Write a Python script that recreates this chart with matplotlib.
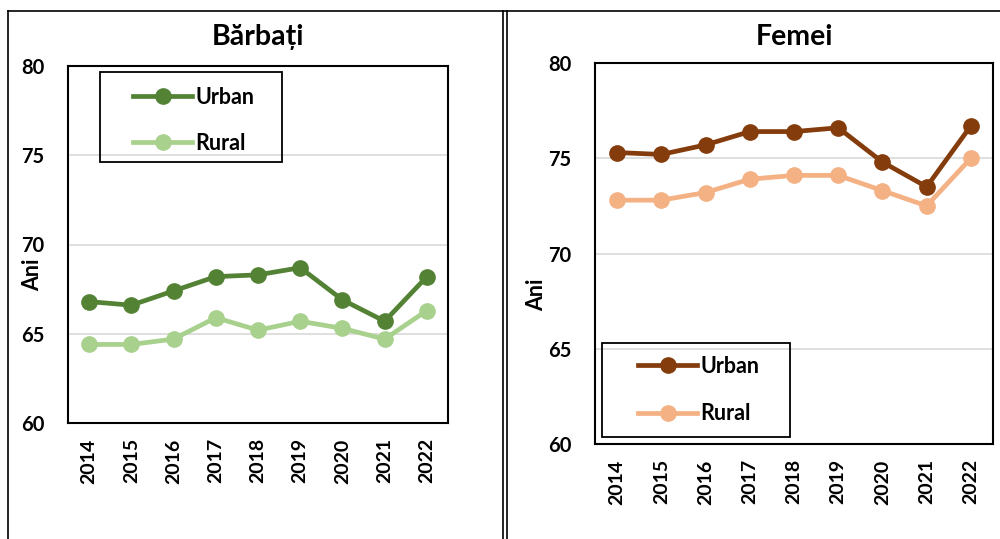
import matplotlib
matplotlib.use("Agg")
import matplotlib.pyplot as plt
from matplotlib.patches import Rectangle
from matplotlib.lines import Line2D

plt.rcParams['font.family'] = ['Lato', 'DejaVu Sans']
plt.rcParams['font.weight'] = 'bold'

years = ['2014', '2015', '2016', '2017', '2018', '2019', '2020', '2021', '2022']
barbati_urban = [66.8, 66.6, 67.4, 68.2, 68.3, 68.7, 66.9, 65.7, 68.2]
barbati_rural = [64.4, 64.4, 64.7, 65.9, 65.2, 65.7, 65.3, 64.7, 66.3]
femei_urban = [75.3, 75.2, 75.7, 76.4, 76.4, 76.6, 74.8, 73.5, 76.7]
femei_rural = [72.8, 72.8, 73.2, 73.9, 74.1, 74.1, 73.3, 72.5, 75.0]
yticks = [60, 65, 70, 75, 80]

W, H = 1000, 539
fig = plt.figure(figsize=(W / 100, H / 100), dpi=100)


def px_box(x0, y0, x1, y1):
    # pixel box (top-left origin) -> figure fraction rect
    return [x0 / W, 1 - y1 / H, (x1 - x0) / W, (y1 - y0) / H]


def frame_line(xs, ys, lw=1.2):
    fig.add_artist(Line2D([x / W for x in xs], [1 - y / H for y in ys],
                          color='black', lw=lw, transform=fig.transFigure))

# outer frames of the two panels
frame_line([8, 8], [11, 545])
frame_line([8, 1000], [11, 11])
frame_line([503, 503], [11, 545])
frame_line([507, 507], [11, 545])


def panel(box, title, urban, rural, c_urban, c_rural, ylab_y, ylab_x, leg_box, leg_pos, spacing):
    ax = fig.add_axes(px_box(*box))
    x = range(len(years))
    ax.plot(x, urban, color=c_urban, lw=3.4, marker='o', ms=11, label='Urban')
    ax.plot(x, rural, color=c_rural, lw=3.4, marker='o', ms=11, label='Rural')
    ax.set_xlim(-0.5, len(years) - 0.5)
    ax.set_ylim(60, 80)
    ax.set_yticks(yticks)
    ax.set_yticklabels([str(v) for v in yticks], fontsize=14.5, fontweight='bold')
    ax.set_xticks(list(x))
    ax.set_xticklabels(years, rotation=90, fontsize=14, fontweight='bold')
    ax.tick_params(axis='y', length=0, pad=17)
    ax.tick_params(axis='x', length=0, pad=11)
    ax.grid(axis='y', color='#d9d9d9', lw=1.2)
    ax.set_axisbelow(True)
    for s in ax.spines.values():
        s.set_color('black')
        s.set_linewidth(1.5)
    cx = (box[0] + box[2]) / 2
    fig.text(cx / W, 1 - 37 / H, title, ha='center', va='center',
             fontsize=20.5, fontweight='bold')
    fig.text(ylab_x / W, 1 - ylab_y / H, 'Ani', rotation=90, ha='center',
             va='center', fontsize=15.5, fontweight='bold')

    # legend frame
    fig.add_artist(Rectangle((leg_box[0] / W, 1 - leg_box[3] / H),
                             (leg_box[2] - leg_box[0]) / W,
                             (leg_box[3] - leg_box[1]) / H,
                             transform=fig.transFigure, fill=False,
                             edgecolor='black', lw=1.3))
    leg = ax.legend(loc='upper left', bbox_to_anchor=(leg_pos[0] / W, 1 - leg_pos[1] / H),
                    bbox_transform=fig.transFigure, frameon=False,
                    fontsize=15.5, handlelength=2.75, labelspacing=spacing,
                    borderpad=0, handletextpad=0.15, borderaxespad=0)
    for t in leg.get_texts():
        t.set_fontweight('bold')
    return ax


panel((68, 66, 448, 423), 'Bărbați', barbati_urban, barbati_rural,
      '#548235', '#a9d18e', 275, 33, (100, 72, 282, 162), (133, 87), 1.15)
panel((595, 63, 993, 444), 'Femei', femei_urban, femei_rural,
      '#843c0c', '#f4b183', 295, 537, (602, 343, 790, 437), (638, 356), 1.22)

fig.savefig('out.png', dpi=100)
